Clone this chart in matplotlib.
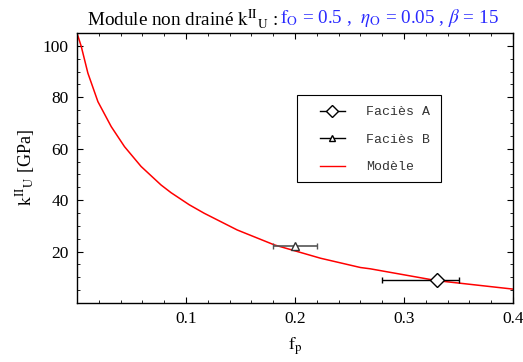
import matplotlib
matplotlib.use('Agg')
import matplotlib.pyplot as plt
from matplotlib.lines import Line2D
from matplotlib.patches import Rectangle
from matplotlib.ticker import MultipleLocator

plt.rcParams.update({'font.family': 'Liberation Serif', 'mathtext.fontset': 'stix', 'font.size': 12})

# model curve
fp_model = [0.0, 0.0039, 0.010, 0.0192, 0.0314, 0.0436, 0.0588, 0.0771, 0.0863, 0.103, 0.1167,
            0.147, 0.181, 0.2235, 0.260, 0.269, 0.330, 0.400]
k_model = [105.0, 99.8, 89.4, 78.3, 68.6, 60.8, 53.1, 45.9, 42.9, 38.2, 34.9,
           28.4, 22.6, 17.4, 13.8, 13.3, 8.7, 5.4]

# measured points: (fp, k, fp_low, fp_high)
fp_A, k_A, fpA_lo, fpA_hi = 0.33, 9.0, 0.28, 0.35
fp_B, k_B, fpB_lo, fpB_hi = 0.20, 22.0, 0.18, 0.22

fig = plt.figure(figsize=(5.23, 3.62), dpi=100)
ax = fig.add_axes([0.1472, 0.163, 0.8337, 0.7458])

ax.plot(fp_model, k_model, color='red', lw=1.1)
ax.errorbar([fp_A], [k_A], xerr=[[fp_A - fpA_lo], [fpA_hi - fp_A]], fmt='D', mfc='white',
            mec='black', color='black', ms=7, capsize=2.5, elinewidth=1, zorder=3)
ax.errorbar([fp_B], [k_B], xerr=[[fp_B - fpB_lo], [fpB_hi - fp_B]], fmt='^', mfc='white',
            mec='#333333', color='#555555', ms=6, capsize=2.5, elinewidth=1.2, zorder=3)

ax.set_xlim(0, 0.4)
ax.set_ylim(0, 105)
ax.set_xticks([0.1, 0.2, 0.3, 0.4])
ax.set_xticklabels(['0.1', '0.2', '0.3', '0.4'])
ax.set_yticks([20, 40, 60, 80, 100])
ax.xaxis.set_minor_locator(MultipleLocator(0.02))
ax.yaxis.set_minor_locator(MultipleLocator(5))
ax.tick_params(which='both', direction='in', top=True, right=True, labelsize=12.5, pad=6)
ax.tick_params(which='major', length=4)
ax.tick_params(which='minor', length=2.5)
for s in ax.spines.values():
    s.set_linewidth(1.0)

ax.set_xlabel(r'$\mathrm{f}_{\mathrm{p}}$', fontsize=13, labelpad=6)
ax.set_ylabel(r'$\mathrm{k}^{\mathrm{II}}{}_{\mathrm{U}}$ [GPa]', fontsize=13, labelpad=4)

# legend box drawn by hand, legend itself without frame
ax.add_patch(Rectangle((0.5046, 0.448), 0.3303, 0.322, transform=ax.transAxes,
                       facecolor='white', edgecolor='black', lw=0.8, zorder=4))
handles = [
    Line2D([], [], color='black', marker='D', mfc='white', ms=6, lw=1),
    Line2D([], [], color='black', marker='^', mfc='white', ms=5, lw=1),
    Line2D([], [], color='red', lw=1),
]
leg = ax.legend(handles, ['Faciès A', 'Faciès B', 'Modèle'], loc='upper left',
                bbox_to_anchor=(0.557, 0.729), borderaxespad=0, borderpad=0,
                frameon=False, labelspacing=1.15, handlelength=1.9, handletextpad=1.6,
                prop={'family': 'Liberation Mono', 'size': 9.5})
leg.set_zorder(5)
for t in leg.get_texts():
    t.set_color('#333333')

# two-coloured title
t1 = fig.text(0, 0.95, r'Module non drainé $\mathrm{k}^{\mathrm{II}}{}_{\mathrm{U}}$ : ',
              fontsize=13.8, va='center', ha='left')
t2 = fig.text(0, 0.95, r'$\mathrm{f}_{\mathrm{O}}$ = 0.5 ,  $\eta_{\mathrm{O}}$ = 0.05 , $\beta$ = 15',
              fontsize=13.8, va='center', ha='left', color='#2a2aff')
fig.canvas.draw()
r = fig.canvas.get_renderer()
w1 = t1.get_window_extent(r).width
w2 = t2.get_window_extent(r).width
W = fig.bbox.width
x0 = 293 - (w1 + w2) / 2
t1.set_x(x0 / W)
t2.set_x((x0 + w1) / W)

fig.savefig('out.png', dpi=100)
